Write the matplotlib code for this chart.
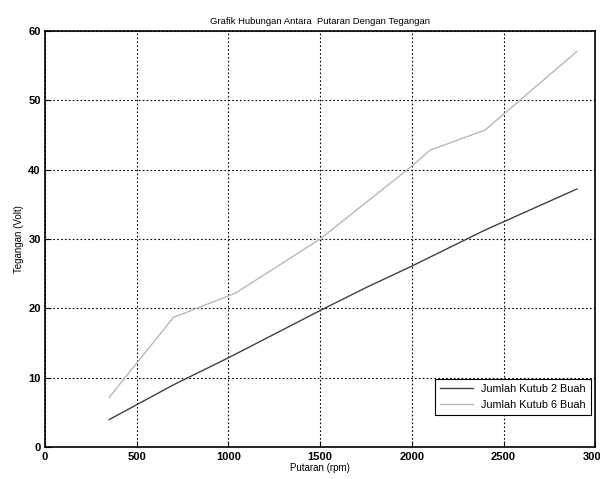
import matplotlib
matplotlib.use("Agg")
import matplotlib.pyplot as plt

# data
rpm_2 = [350, 700, 1000, 1500, 1750, 2000, 2400, 2900]
volt_2 = [4.0, 9.0, 12.9, 19.7, 23.0, 26.1, 31.3, 37.2]

rpm_6 = [350, 700, 1000, 1050, 1500, 2000, 2100, 2400, 2900]
volt_6 = [7.2, 18.7, 21.8, 22.4, 30.0, 40.5, 42.8, 45.7, 57.0]

plt.rcParams['font.family'] = ['Liberation Sans', 'DejaVu Sans']

fig = plt.figure(figsize=(6.0, 4.79), dpi=100)
ax = fig.add_axes([0.075, 0.066, 0.917, 0.87])

ax.plot(rpm_2, volt_2, color="#404040", lw=1.0, label="Jumlah Kutub 2 Buah")
ax.plot(rpm_6, volt_6, color="#b8b8b8", lw=1.0, label="Jumlah Kutub 6 Buah")

ax.set_xlim(0, 3000)
ax.set_ylim(0, 60)
ax.set_xticks(range(0, 3001, 500))
ax.set_yticks(range(0, 61, 10))
ax.grid(True, color="black", linestyle=(0, (1.5, 2)), linewidth=0.8)
ax.tick_params(direction="in", length=4, labelsize=8, pad=3)
for lbl in ax.get_xticklabels() + ax.get_yticklabels():
    lbl.set_fontweight("bold")
for s in ax.spines.values():
    s.set_linewidth(1.2)

ax.set_title("Grafik Hubungan Antara  Putaran Dengan Tegangan", fontsize=6.8, pad=5)
ax.set_xlabel("Putaran (rpm)", fontsize=7, labelpad=1)
ax.set_ylabel("Tegangan (Volt)", fontsize=7, labelpad=3)

leg = ax.legend(loc="lower right", fontsize=7.8, fancybox=False, framealpha=1,
                edgecolor="black", handlelength=3, borderaxespad=0.3,
                borderpad=0.5, bbox_to_anchor=(0.999, 0.07))
leg.get_frame().set_linewidth(0.8)

plt.savefig("out.png", dpi=100)
